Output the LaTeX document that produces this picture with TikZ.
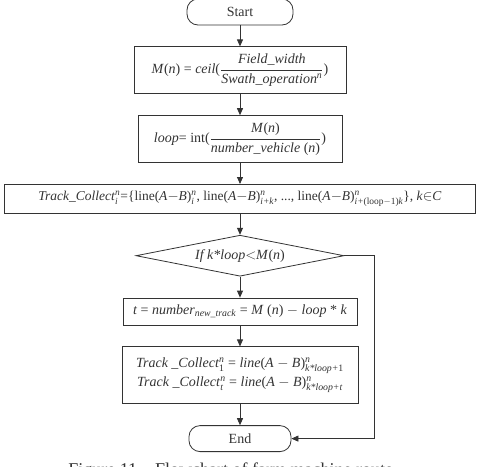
\documentclass[tikz,border=0pt]{standalone}
\usepackage{amsmath}
\usepackage{amssymb}
\usepackage{fontspec}
\setmainfont{Liberation Serif}
\usetikzlibrary{arrows.meta,positioning,shapes.geometric}
\newcommand\sus[2]{$^{\text{\itshape #1}}_{\text{\itshape #2}}$}

\begin{document}
\begin{tikzpicture}[node distance=21pt, >={Triangle[length=7pt,width=6pt]},
  line width=0.8pt, draw=black!80, text=black!80,
  b/.style={draw, align=center, inner sep=2pt, font=\fontsize{14}{17}\selectfont},
  term/.style={draw, rounded corners=11pt, minimum width=106pt, minimum height=26pt,
               font=\fontsize{14}{17}\selectfont},
  cond/.style={draw, diamond, aspect=5, inner sep=0pt, minimum width=208pt,
               minimum height=41pt, font=\fontsize{14}{17}\selectfont}]
\useasboundingbox (-240pt,12pt) rectangle (239pt,-454pt);
\node[term] (s) {Start};
\node[b, below=of s, minimum width=212pt, minimum height=47pt] (m)
  {\textit{M}(\textit{n}) = \textit{ceil}($\dfrac{\mbox{\textit{Field\_width}}}{\mbox{\textit{Swath\_operation}\textsuperscript{\textit{n}}}}$)};
\node[b, below=of m, minimum width=204pt, minimum height=47pt] (l)
  {\textit{loop}= int($\dfrac{\mbox{\textit{M}(\textit{n})}}{\mbox{\textit{number\_vehicle} (\textit{n})}}$)};
\node[b, below=of l, minimum width=471pt, minimum height=29pt, font=\fontsize{13.5}{16}\selectfont] (tc)
  {\textit{Track\_Collect}\sus{n}{i}=\{line(\textit{A}$-$\textit{B})\sus{n}{i}, line(\textit{A}$-$\textit{B})\sus{n}{i+k}, ..., line(\textit{A}$-$\textit{B})\sus{n}{i+{\upshape(loop$-$1)}k}\}, \textit{k}$\in$\textit{C}};
\node[cond, below=of tc] (d) {\textit{If k*loop}$<$\textit{M}(\textit{n})};
\node[b, below=of d, minimum width=234pt, minimum height=27pt] (t)
  {\textit{t} = \textit{number}\textsubscript{\textit{new\_track}} = \textit{M} (\textit{n}) $-$ \textit{loop} * \textit{k}};
\node[b, below=of t, minimum width=236pt, minimum height=57pt] (r)
  {\textit{Track \_Collect}\sus{n}{\upshape 1} = \textit{line}(\textit{A} $-$ \textit{B})\sus{n}{k*loop+\upshape 1}\\[2pt]
   \textit{Track \_Collect}\sus{n}{t} = \textit{line}(\textit{A} $-$ \textit{B})\sus{n}{k*loop+t}};
\node[term, below=of r, minimum width=102pt] (e) {End};
\draw[->] (s)--(m); \draw[->] (m)--(l); \draw[->] (l)--(tc); \draw[->] (tc)--(d);
\draw[->] (d)--(t); \draw[->] (t)--(r); \draw[->] (r)--(e);
\draw[->] (d.east) -- ++(30pt,0) |- (e.east);
\node[font=\fontsize{18}{20}\selectfont, anchor=north west, inner sep=0pt] (cap)
  at (-172pt,-450.5pt) {Figure 11\quad Flowchart of farm machine route};
\end{tikzpicture}
\end{document}
